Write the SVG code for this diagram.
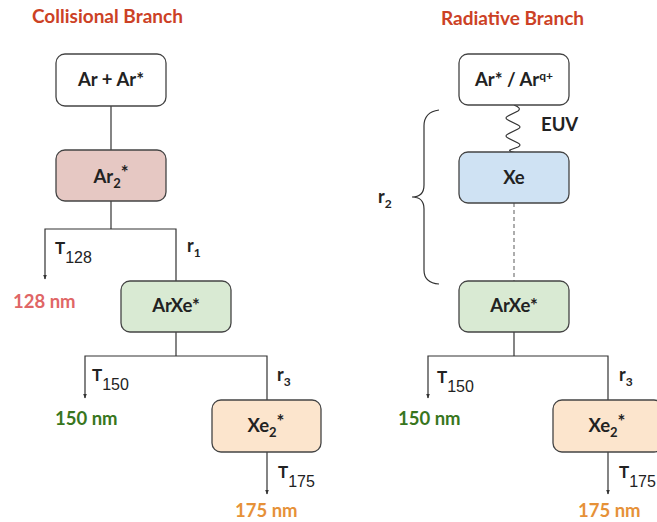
<svg xmlns="http://www.w3.org/2000/svg" width="657" height="522" viewBox="0 0 657 522">
<defs>
<marker id="arr" viewBox="0 0 10 10" refX="9" refY="5" markerWidth="5" markerHeight="5" orient="auto-start-reverse" markerUnits="userSpaceOnUse">
<path d="M0,1 L10,5 L0,9 z" fill="#333"/>
</marker>
<style>
.box{stroke:#444;stroke-width:1.3}
.lbl{font-family:Lato,"Noto Sans",sans-serif;font-weight:bold;font-size:18.5px;fill:#222;text-anchor:middle}
.title{font-family:Lato,"Noto Sans",sans-serif;font-weight:bold;font-size:19px;fill:#cc4125}
.nm{font-family:Lato,"Noto Sans",sans-serif;font-weight:bold;font-size:18.5px}
.t{font-family:"Liberation Sans",Arial,sans-serif;font-size:16px;fill:#222}
.tt{font-family:Lato,"Noto Sans",sans-serif;font-weight:bold;font-size:17px}
.r{font-family:Lato,"Noto Sans",sans-serif;font-weight:bold;font-size:18px;fill:#222}
.ln{stroke:#333;stroke-width:1.2;fill:none}
</style>
</defs>
<rect width="657" height="522" fill="#fff"/>
<text class="title" x="32" y="23">Collisional Branch</text>
<text class="title" x="441" y="25">Radiative Branch</text>

<g id="connectors">
<line class="ln" x1="111" y1="106" x2="111" y2="150"/>
<polyline class="ln" points="111,201 111,229"/>
<polyline class="ln" points="45,279 45,229 176,229 176,281" marker-start="url(#arr)"/>
<line class="ln" x1="176" y1="332" x2="176" y2="356"/>
<polyline class="ln" points="85,398 85,356 267,356 267,400" marker-start="url(#arr)"/>
<line class="ln" x1="267" y1="452" x2="267" y2="494" marker-end="url(#arr)"/>
<path class="ln" d="M514,105 Q522,108 518,111 L508,116 Q504,118 508,120 L518,125 Q522,127 518,129 L508,134 Q504,136 508,138 L518,143 Q522,145 518,147 L510,150 Q508,152 520,153"/>
<line class="ln" x1="514" y1="203" x2="514" y2="281" stroke-dasharray="4,3" style="stroke:#777"/>
<path class="ln" d="M439,110 Q424,112 424,126 L424,185 Q424,197 412,197 Q424,197 424,209 L424,270 Q424,283 439,284"/>
<line class="ln" x1="514" y1="332" x2="514" y2="356"/>
<polyline class="ln" points="428,398 428,356 608,356 608,400" marker-start="url(#arr)"/>
<line class="ln" x1="608" y1="452" x2="608" y2="494" marker-end="url(#arr)"/>
</g>

<g id="arar">
<rect class="box" x="56" y="54" width="110" height="52" rx="9" fill="#fff"/>
<text class="lbl" x="111" y="86">Ar + Ar*</text>
</g>
<g id="ar2">
<rect class="box" x="56" y="150" width="110" height="51" rx="9" fill="#e6c8c3"/>
<text class="lbl" x="111" y="183">Ar<tspan font-size="13" dy="5">2</tspan><tspan dy="-9">*</tspan></text>
</g>
<g id="arxe1">
<rect class="box" x="121" y="281" width="110" height="51" rx="9" fill="#d9ead3"/>
<text class="lbl" x="176" y="312">ArXe*</text>
</g>
<g id="xe2a">
<rect class="box" x="212" y="400" width="109" height="52" rx="9" fill="#fce5cd"/>
<text class="lbl" x="266" y="432">Xe<tspan font-size="13" dy="5">2</tspan><tspan dy="-9">*</tspan></text>
</g>

<g id="arq">
<rect class="box" x="459" y="54" width="110" height="51" rx="9" fill="#fff"/>
<text class="lbl" x="514" y="86">Ar* / Ar<tspan font-size="12" dy="-6">q+</tspan></text>
</g>
<g id="xe">
<rect class="box" x="459" y="152" width="110" height="51" rx="9" fill="#cfe2f3"/>
<text class="lbl" x="514" y="184">Xe</text>
</g>
<g id="arxe2">
<rect class="box" x="459" y="281" width="110" height="51" rx="9" fill="#d9ead3"/>
<text class="lbl" x="514" y="312">ArXe*</text>
</g>
<g id="xe2b">
<rect class="box" x="553" y="400" width="110" height="52" rx="9" fill="#fce5cd"/>
<text class="lbl" x="607" y="432">Xe<tspan font-size="13" dy="5">2</tspan><tspan dy="-9">*</tspan></text>
</g>

<g id="labels">
<text class="t" x="55" y="254"><tspan class="tt">T</tspan><tspan dy="9">128</tspan></text>
<text class="r" x="187" y="252">r<tspan font-size="12" dy="5">1</tspan></text>
<text class="nm" x="13" y="308" fill="#e06666">128 nm</text>
<text class="t" x="92" y="381"><tspan class="tt">T</tspan><tspan dy="9">150</tspan></text>
<text class="r" x="277" y="381">r<tspan font-size="12" dy="5">3</tspan></text>
<text class="nm" x="55" y="425" fill="#38761d">150 nm</text>
<text class="t" x="278" y="478"><tspan class="tt">T</tspan><tspan dy="9">175</tspan></text>
<text class="nm" x="235" y="517" fill="#e69138">175 nm</text>
<text class="nm" x="541" y="131" fill="#222">EUV</text>
<text class="r" x="378" y="203">r<tspan font-size="12" dy="5">2</tspan></text>
<text class="t" x="437" y="383"><tspan class="tt">T</tspan><tspan dy="9">150</tspan></text>
<text class="r" x="619" y="381">r<tspan font-size="12" dy="5">3</tspan></text>
<text class="nm" x="398" y="425" fill="#38761d">150 nm</text>
<text class="t" x="619" y="478"><tspan class="tt">T</tspan><tspan dy="9">175</tspan></text>
<text class="nm" x="578" y="517" fill="#e69138">175 nm</text>
</g>
</svg>
